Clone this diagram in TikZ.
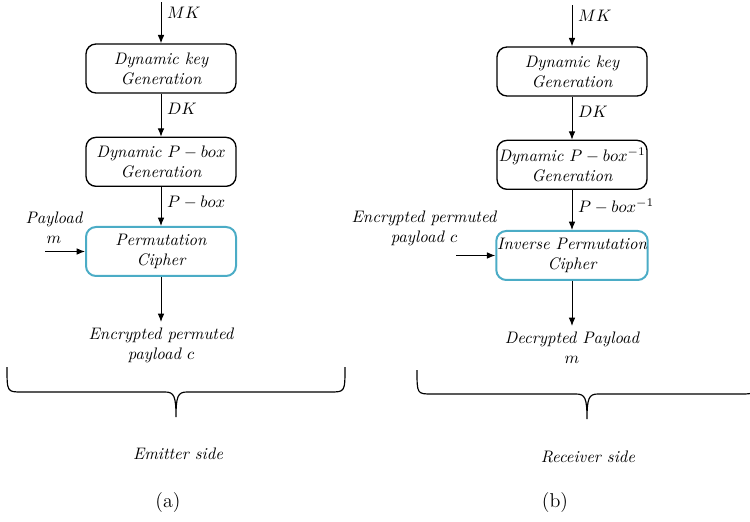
\documentclass[tikz,border=0pt]{standalone}
\usepackage{amsmath}
\usetikzlibrary{arrows.meta, positioning}
\definecolor{boxcyan}{RGB}{75,172,198}
\tikzset{
  genbox/.style={draw, rounded corners=6pt, line width=0.8pt, minimum width=90pt,
    minimum height=29.4pt, align=center, font=\itshape, inner xsep=0.5pt, inner ysep=2pt},
  cipherbox/.style={genbox, draw=boxcyan, line width=1.2pt},
  flow/.style={-{Latex[length=5pt,width=4pt]}, line width=0.6pt},
  lbl/.style={font=\itshape, align=center},
}

\begin{document}
\begin{tikzpicture}[x=0.6pt, y=-0.6pt]
  \useasboundingbox (0,0) rectangle (750,522);
  \clip (0,0) rectangle (750,522);

  % (a) emitter side
  \node[genbox] (keyA) at (161,68.5) {Dynamic key\\Generation};
  \node[genbox, below=25.8pt of keyA] (pboxA) {Dynamic $P-box$\\Generation};
  \node[cipherbox, below=23.4pt of pboxA] (permA) {Permutation\\Cipher};
  \node[lbl, below=27pt of permA] (outA) {Encrypted permuted\\payload $c$};
  \node[lbl] (inA) at (54,228) {Payload\\$m$};
  \coordinate[above=24.6pt of keyA] (mkA);
  \coordinate[left=24pt of permA] (srcA);

  \draw[flow] (mkA) -- node[right, pos=0.25] {$MK$} (keyA);
  \draw[flow] (keyA) -- node[right, pos=0.35] {$DK$} (pboxA);
  \draw[flow] (pboxA) -- node[right, pos=0.4] {$P-box$} (permA);
  \draw[flow] (srcA) -- (permA);
  \draw[flow] (permA) -- (outA);

  % (b) receiver side
  \node[genbox] (keyB) at (572,71.5) {Dynamic key\\Generation};
  \node[genbox, below=25.8pt of keyB] (pboxB) {Dynamic $P-box^{-1}$\\Generation};
  \node[cipherbox, below=24pt of pboxB] (permB) {Inverse Permutation\\Cipher};
  \node[lbl, below=27pt of permB] (outB) {Decrypted Payload\\$m$};
  \node[lbl] (inB) at (424,228) {Encrypted permuted\\payload $c$};
  \coordinate[above=24.6pt of keyB] (mkB);
  \coordinate[left=23.4pt of permB] (srcB);

  \draw[flow] (mkB) -- node[right, pos=0.25] {$MK$} (keyB);
  \draw[flow] (keyB) -- node[right, pos=0.35] {$DK$} (pboxB);
  \draw[flow] (pboxB) -- node[right, pos=0.4] {$P-box^{-1}$} (permB);
  \draw[flow] (srcB) -- (permB);
  \draw[flow] (permB) -- (outB);

  % braces
  \draw[line width=0.7pt] (7,367) .. controls (7,392) and (7,392) .. (22,392) -- (165,392)
    .. controls (174,392) and (176,396) .. (176,417)
    .. controls (176,396) and (178,392) .. (187,392) -- (330,392)
    .. controls (345,392) and (345,392) .. (345,367);
  \draw[line width=0.7pt] (417,370) .. controls (417,394) and (417,394) .. (432,394) -- (576,394)
    .. controls (585,394) and (587,398) .. (587,419)
    .. controls (587,398) and (589,394) .. (598,394) -- (741,394)
    .. controls (756,394) and (756,394) .. (756,370);

  \node[lbl] (sideA) at (178,454) {Emitter side};
  \node[lbl] (sideB) at (588,457) {Receiver side};
  \node[font=\large] (capA) at (168,503) {(a)};
  \node[font=\large] (capB) at (555,503) {(b)};
\end{tikzpicture}
\end{document}
